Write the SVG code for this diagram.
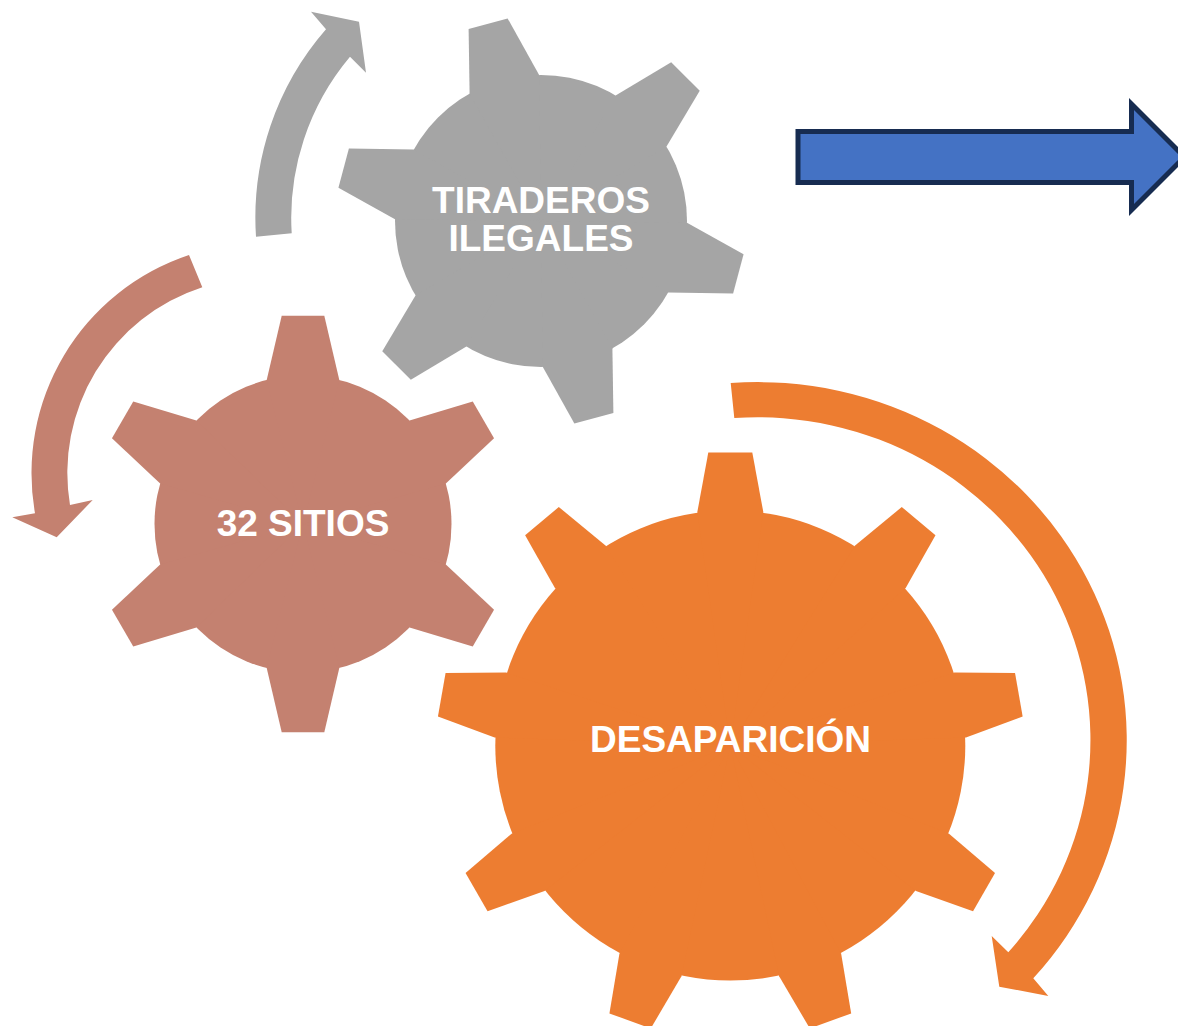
<svg xmlns="http://www.w3.org/2000/svg" width="1178" height="1026" viewBox="0 0 1178 1026">
<defs>
<style>
.lbl{font-family:"Liberation Sans",Arial,Helvetica,sans-serif;font-weight:bold;font-size:37px;fill:#FFFFFF;text-anchor:middle}
.gray{fill:#A5A5A5}
.brown{fill:#C48170}
.orange{fill:#ED7D31}
.blue{fill:#4472C4;stroke:#172C51;stroke-width:5;stroke-linejoin:miter}
</style>
<polygon id="toothG" points="-36,-141.5 -20.2,-204.3 20.2,-204.3 36,-141.5 0,0"/>
<polygon id="toothB" points="-36.3,-144 -21.3,-208.3 21.3,-208.3 36.3,-144 0,0"/>
<polygon id="toothO" points="-33,-233.5 -22,-293 22,-293 33,-233.5 0,0"/>
</defs>
<rect width="1178" height="1026" fill="#FFFFFF"/>

<g id="connectors">
<path id="arc-gray" class="gray" d="M 256 236.7 A 286.5 286.5 0 0 1 326 29.3 L 311 11.7 L 359 21.7 L 366 72.7 L 350 56.7 A 250.5 250.5 0 0 0 291.7 233.3 Z"/>
<path id="arc-brown" class="brown" d="M 189 255 A 230 230 0 0 0 35 513.3 L 12.3 517.3 L 56.7 537.3 L 92.7 500 L 70 505 A 195 195 0 0 1 202.3 287.3 Z"/>
<path id="arc-orange" class="orange" d="M 730.7 383.1 A 368.7 358 0 0 1 1033.3 978.3 L 1048.3 996 L 999.3 986.7 L 991.7 936 L 1008.3 952.3 A 332.7 322.7 0 0 0 734.3 418.1 Z"/>
</g>

<g id="gear-tiraderos" class="gray">
<circle cx="541" cy="221" r="146"/>
<use href="#toothG" transform="translate(541 221) rotate(-15)"/>
<use href="#toothG" transform="translate(541 221) rotate(45)"/>
<use href="#toothG" transform="translate(541 221) rotate(105)"/>
<use href="#toothG" transform="translate(541 221) rotate(165)"/>
<use href="#toothG" transform="translate(541 221) rotate(225)"/>
<use href="#toothG" transform="translate(541 221) rotate(285)"/>
<text class="lbl" x="541" y="212.7">TIRADEROS</text>
<text class="lbl" x="541" y="250.7">ILEGALES</text>
</g>

<g id="gear-32-sitios" class="brown">
<circle cx="303" cy="524" r="148.5"/>
<use href="#toothB" transform="translate(303 524) rotate(0)"/>
<use href="#toothB" transform="translate(303 524) rotate(60)"/>
<use href="#toothB" transform="translate(303 524) rotate(120)"/>
<use href="#toothB" transform="translate(303 524) rotate(180)"/>
<use href="#toothB" transform="translate(303 524) rotate(240)"/>
<use href="#toothB" transform="translate(303 524) rotate(300)"/>
<text class="lbl" x="303" y="536">32 SITIOS</text>
</g>

<g id="gear-desaparicion" class="orange">
<circle cx="730.3" cy="745.6" r="235"/>
<use href="#toothO" transform="translate(730.3 745.6) rotate(0)"/>
<use href="#toothO" transform="translate(730.3 745.6) rotate(40)"/>
<use href="#toothO" transform="translate(730.3 745.6) rotate(80)"/>
<use href="#toothO" transform="translate(730.3 745.6) rotate(120)"/>
<use href="#toothO" transform="translate(730.3 745.6) rotate(160)"/>
<use href="#toothO" transform="translate(730.3 745.6) rotate(200)"/>
<use href="#toothO" transform="translate(730.3 745.6) rotate(240)"/>
<use href="#toothO" transform="translate(730.3 745.6) rotate(280)"/>
<use href="#toothO" transform="translate(730.3 745.6) rotate(320)"/>
<text class="lbl" x="730.5" y="752">DESAPARICIÓN</text>
</g>

<g id="arrow-right">
<polygon class="blue" points="798,131.5 1131.5,131.5 1131.5,104 1184.5,157 1131.5,210 1131.5,182.5 798,182.5"/>
</g>
</svg>
